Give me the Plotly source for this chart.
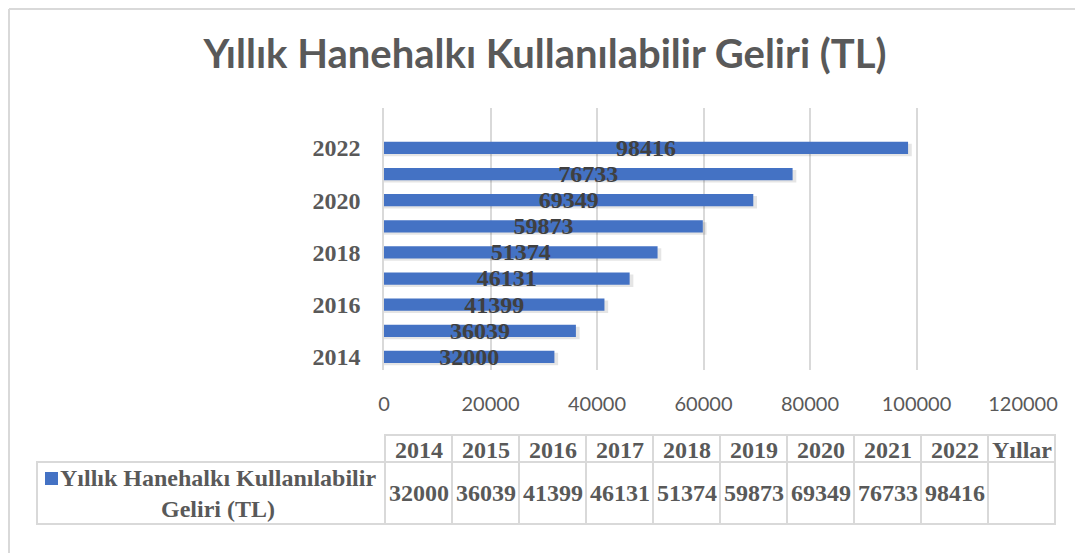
import plotly.graph_objects as go

years = [2014, 2015, 2016, 2017, 2018, 2019, 2020, 2021, 2022]
income = [32000, 36039, 41399, 46131, 51374, 59873, 69349, 76733, 98416]
x_ticks = [0, 20000, 40000, 60000, 80000, 100000, 120000]
y_ticks = [2014, 2016, 2018, 2020, 2022]
title_text = "Yıllık Hanehalkı Kullanılabilir Geliri (TL)"
series_name = "Yıllık Hanehalkı Kullanılabilir<br>Geliri (TL)"
extra_col = "Yıllar"

# page body has an 8px margin; figure coordinates = page coordinates - OFF
OFF = 8
W, H = 1075, 545
ML = 384 - OFF
MT = 108 - OFF
MR = W - (1023 - OFF)
MB = H - (370 - OFF)
PW = W - ML - MR
PH = H - MT - MB

BLUE = "#4472C4"
GRID = "#d9d9d9"
TXT = "#595959"
SERIF = "Liberation Serif, Times New Roman, serif"
SANS = "Lato, Open Sans, sans-serif"


def px(x):
    """page x pixel -> paper coordinate"""
    return (x - OFF - ML) / PW


def py(y):
    """page y pixel -> paper coordinate"""
    return (H - MB - (y - OFF)) / PH


fig = go.Figure()

# soft shadow under bars
fig.add_trace(go.Bar(
    x=[v + 700 for v in income], y=years, orientation="h",
    width=0.48, offset=-0.32,
    marker=dict(color="rgba(0,0,0,0.10)", line=dict(width=0)),
    hoverinfo="skip", showlegend=False,
))
fig.add_trace(go.Bar(
    x=income, y=years, orientation="h", width=0.47,
    marker=dict(color=BLUE, line=dict(width=0)),
    name="Yıllık Hanehalkı Kullanılabilir Geliri (TL)", showlegend=False,
))
fig.add_trace(go.Scatter(
    x=[v / 2 for v in income], y=[yy - 0.07 for yy in years], mode="text",
    text=[str(v) for v in income], textposition="middle center",
    textfont=dict(family=SERIF, size=24, color="#404040", weight="bold"),
    hoverinfo="skip", showlegend=False,
))

fig.update_xaxes(
    range=[0, 120000], tickvals=x_ticks, ticktext=[str(t) for t in x_ticks],
    showgrid=True, gridcolor=GRID, gridwidth=1.5, zeroline=False,
    showline=False, ticks="", ticklabelstandoff=20,
    tickfont=dict(family=SANS, size=20, color=TXT),
)
fig.update_yaxes(
    range=[2013.5, 2023.53], tickvals=y_ticks, ticktext=[str(t) for t in y_ticks],
    showgrid=False, zeroline=False, showline=True, linecolor=GRID, linewidth=1.5,
    ticks="", ticklabelstandoff=17,
    tickfont=dict(family=SERIF, size=24, color=TXT, weight="bold"),
)

shapes = []
annotations = []

# outer chart border (left and top)
shapes.append(dict(type="line", xref="paper", yref="paper",
                   x0=px(OFF + 1), x1=px(W + OFF + 5), y0=py(OFF + 1), y1=py(OFF + 1),
                   line=dict(color=GRID, width=2)))
shapes.append(dict(type="line", xref="paper", yref="paper",
                   x0=px(OFF + 1), x1=px(OFF + 1), y0=py(OFF + 1), y1=py(H + OFF + 5),
                   line=dict(color=GRID, width=2)))

# data table (page pixel layout)
col_w = 67
t_x0 = 385
t_left = 37
row_top, row_mid, row_bot = 435, 462, 524
headers = [str(y) for y in years] + [extra_col]
values = [str(v) for v in income] + [""]
n = len(headers)
tline = dict(color=GRID, width=2)
shapes.append(dict(type="rect", xref="paper", yref="paper",
                   x0=px(t_x0), x1=px(t_x0 + n * col_w), y0=py(row_top), y1=py(row_mid),
                   line=tline))
shapes.append(dict(type="rect", xref="paper", yref="paper",
                   x0=px(t_left), x1=px(t_x0 + n * col_w), y0=py(row_mid), y1=py(row_bot),
                   line=tline))
for i in range(n + 1):
    xx = t_x0 + i * col_w
    shapes.append(dict(type="line", xref="paper", yref="paper",
                       x0=px(xx), x1=px(xx), y0=py(row_top), y1=py(row_bot), line=tline))
for i in range(n):
    cx = t_x0 + (i + 0.5) * col_w
    annotations.append(dict(xref="paper", yref="paper", x=px(cx), y=py((row_top + row_mid) / 2 + 1),
                            text="<b>" + headers[i] + "</b>", showarrow=False,
                            xanchor="center", yanchor="middle",
                            font=dict(family=SERIF, size=24, color=TXT)))
    annotations.append(dict(xref="paper", yref="paper", x=px(cx), y=py((row_mid + row_bot) / 2),
                            text="<b>" + values[i] + "</b>", showarrow=False,
                            xanchor="center", yanchor="middle",
                            font=dict(family=SERIF, size=24, color=TXT)))
# legend key square in the table
shapes.append(dict(type="rect", xref="paper", yref="paper",
                   x0=px(45), x1=px(58), y0=py(472), y1=py(485),
                   fillcolor=BLUE, line=dict(width=0)))
annotations.append(dict(xref="paper", yref="paper", x=px(218), y=py((row_mid + row_bot) / 2),
                        text="<b>%s</b>" % series_name,
                        showarrow=False, xanchor="center", yanchor="middle", align="center",
                        font=dict(family=SERIF, size=24, color=TXT)))

fig.update_layout(
    width=W, height=H,
    margin=dict(l=ML, r=MR, t=MT, b=MB),
    paper_bgcolor="white", plot_bgcolor="white",
    title=dict(text="<b>" + title_text + "</b>", x=(545 - OFF) / W, xanchor="center",
               y=1 - (54 - OFF) / H, yanchor="middle", yref="container", xref="container",
               font=dict(family=SANS, size=40, color=TXT)),
    barmode="overlay", showlegend=False,
    shapes=shapes, annotations=annotations,
)

fig.write_html("out.html")
